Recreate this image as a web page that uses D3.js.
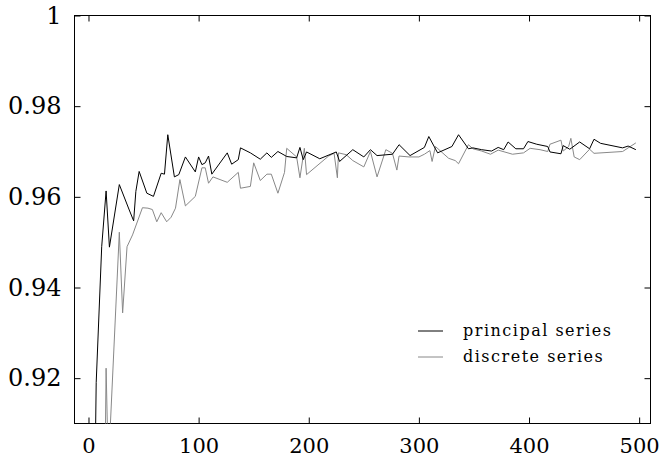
<!doctype html>
<html lang="en">
<head>
  <meta charset="UTF-8">
  <script src="https://cdn.jsdelivr.net/npm/d3@7"></script>
  <title>series</title>
  <style>
    body{ margin:0; background:#fff; }
    .chart svg{ display:block; background:#fff; }
    .chart text{ font-family:"DejaVu Serif", serif; fill:#000; }
  </style>
</head>
<body>
  <div class="chart"></div>
  <script>
    // values (x, value)
    const principalX = [6, 7, 12, 16, 19, 28, 37, 41, 43, 46, 53, 59, 66, 69, 72, 78, 82, 88, 97, 100,
      103, 106, 109, 112, 126, 130, 136, 138, 147, 156, 162, 166, 172, 180, 189, 192, 195, 198, 210, 225,
      228, 240, 250, 256, 262, 276, 282, 292, 305, 309, 317, 330, 336, 345, 349, 357, 366, 372, 377, 381,
      388, 395, 399, 407, 417, 419, 429, 431, 437, 446, 455, 459, 465, 485, 490, 497];
    const principalY = [0.900, 0.919, 0.949, 0.9613, 0.9489, 0.9627, 0.9571, 0.9547, 0.9612, 0.9656,
      0.9608, 0.9601, 0.9652, 0.9650, 0.9737, 0.9644, 0.9649, 0.9688, 0.9655, 0.9688,
      0.9671, 0.9675, 0.9690, 0.9650, 0.9697, 0.9672, 0.9682, 0.9708, 0.9697, 0.9683,
      0.9697, 0.9687, 0.9700, 0.9689, 0.9686, 0.9709, 0.9682, 0.9699, 0.9684, 0.9699,
      0.9678, 0.9704, 0.9688, 0.9704, 0.9691, 0.9694, 0.9715, 0.9691, 0.9709, 0.9733,
      0.9697, 0.9711, 0.9737, 0.9706, 0.9708, 0.9704, 0.9701, 0.9709, 0.9704, 0.9721,
      0.9706, 0.9706, 0.9722, 0.9716, 0.9711, 0.9699, 0.9695, 0.9713, 0.9705, 0.9721,
      0.9706, 0.9727, 0.9718, 0.9708, 0.9712, 0.9704];

    const discreteX = [15, 16, 18, 28, 31, 35, 40, 49, 54, 58, 62, 66, 71, 75, 79, 83, 88, 97, 103, 106,
      109, 113, 126, 136, 138, 147, 150, 156, 162, 166, 172, 178, 180, 189, 192, 196, 198, 218, 223, 226,
      227, 234, 240, 250, 256, 262, 270, 276, 280, 282, 291, 300, 305, 310, 312, 315, 327, 333, 336, 345,
      349, 357, 365, 372, 385, 395, 401, 410, 417, 419, 429, 431, 436, 438, 441, 446, 455, 459, 485, 497];
    const discreteY = [0.900, 0.9222, 0.900, 0.9522, 0.9344, 0.9490, 0.9516, 0.9576, 0.9575, 0.9572,
      0.9545, 0.9565, 0.9545, 0.9555, 0.9575, 0.9638, 0.9580, 0.9601, 0.9664, 0.9664,
      0.9630, 0.9644, 0.9632, 0.9654, 0.9619, 0.9623, 0.9675, 0.9636, 0.9650, 0.9650,
      0.9608, 0.9654, 0.9707, 0.9688, 0.9642, 0.9707, 0.9649, 0.9690, 0.9696, 0.9642,
      0.9697, 0.9693, 0.9680, 0.9666, 0.9700, 0.9644, 0.9704, 0.9696, 0.9659, 0.9690,
      0.9688, 0.9688, 0.9694, 0.9702, 0.9678, 0.9711, 0.9685, 0.9680, 0.9673, 0.9715,
      0.9706, 0.9701, 0.9694, 0.9703, 0.9694, 0.9697, 0.9707, 0.9704, 0.9700, 0.9716,
      0.9725, 0.9701, 0.9711, 0.9729, 0.9688, 0.9682, 0.9705, 0.9696, 0.9700, 0.9719];

    const xTicks = [0, 100, 200, 300, 400, 500];
    const yTicks = [0.92, 0.94, 0.96, 0.98, 1];
    const yTickLabels = ['0.92', '0.94', '0.96', '0.98', '1'];
    const seriesNames = ['principal series', 'discrete series'];
    const seriesColors = ['#000', '#888'];

    const W = 659, H = 466;
    const box = {left: 74.5, right: 650.5, top: 15.5, bottom: 423.5};

    const svg = d3.select('.chart').append('svg').attr('width', W).attr('height', H);

    const x = d3.scaleLinear().domain([-12.7, 510.3]).range([box.left, box.right]);
    const y = d3.scaleLinear().domain([0.91, 1]).range([box.bottom, box.top]);

    svg.append('clipPath').attr('id', 'clip')
      .append('rect').attr('x', box.left).attr('y', box.top)
      .attr('width', box.right - box.left).attr('height', box.bottom - box.top);

    // axes with inward ticks on all four sides
    const tl = 6;
    const bottomAxis = svg.append('g').attr('transform', `translate(0,${box.bottom})`)
      .call(d3.axisBottom(x).tickValues(xTicks).tickSizeInner(-tl).tickSizeOuter(0).tickPadding(15));
    svg.append('g').attr('transform', `translate(0,${box.top})`)
      .call(d3.axisTop(x).tickValues(xTicks).tickSizeInner(-tl).tickSizeOuter(0).tickFormat(''));
    const leftAxis = svg.append('g').attr('transform', `translate(${box.left},0)`)
      .call(d3.axisLeft(y).tickValues(yTicks).tickSizeInner(-tl).tickSizeOuter(0).tickPadding(13)
        .tickFormat((d, i) => yTickLabels[i]));
    svg.append('g').attr('transform', `translate(${box.right},0)`)
      .call(d3.axisRight(y).tickValues(yTicks).tickSizeInner(-tl).tickSizeOuter(0).tickFormat(''));

    svg.selectAll('.domain').remove();
    svg.selectAll('.tick line').attr('stroke', '#000').attr('stroke-width', 1);
    bottomAxis.selectAll('text').style('font-size', '21px').attr('dy', '0.71em');
    leftAxis.selectAll('text').style('font-size', '24px');

    svg.append('rect').attr('x', box.left).attr('y', box.top)
      .attr('width', box.right - box.left).attr('height', box.bottom - box.top)
      .attr('fill', 'none').attr('stroke', '#000').attr('stroke-width', 1);

    const line = d3.line().x(d => x(d[0])).y(d => y(d[1]));
    const series = [
      d3.zip(principalX, principalY),
      d3.zip(discreteX, discreteY)
    ];
    const plot = svg.append('g').attr('clip-path', 'url(#clip)');
    // grey drawn first so the principal line sits on top
    [1, 0].forEach(i => {
      plot.append('path').attr('d', line(series[i]))
        .attr('fill', 'none').attr('stroke', seriesColors[i]).attr('stroke-width', 1);
    });

    // legend
    const lg = svg.append('g');
    seriesNames.forEach((name, i) => {
      const ly = 331 + i * 26;
      lg.append('line').attr('x1', 418).attr('x2', 443).attr('y1', ly).attr('y2', ly)
        .attr('stroke', seriesColors[i]).attr('stroke-width', 1);
      lg.append('text').attr('x', 463).attr('y', ly).attr('dy', '0.32em')
        .style('font-size', '16px').style('letter-spacing', '1.5px').text(name);
    });
  </script>
</body>
</html>
